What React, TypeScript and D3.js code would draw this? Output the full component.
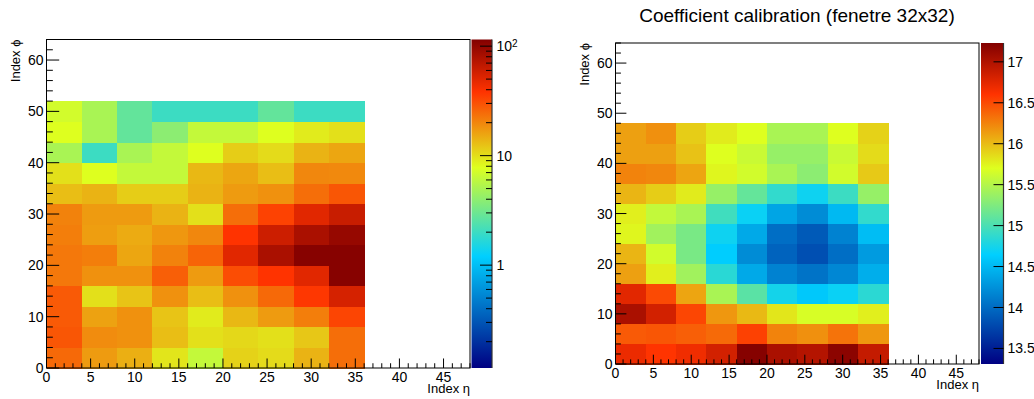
import React from "react";
import * as d3 from "d3";

// ---------- data ----------
const etaEdges = [0, 4, 8, 12, 16, 20, 24, 28, 32, 36];
const phiEdgesLeft = [0, 4, 8, 12, 16, 20, 24, 28, 32, 36, 40, 44, 48, 52];
const phiEdgesRight = [0, 4, 8, 12, 16, 20, 24, 28, 32, 36, 40, 44, 48];

// left histogram (log z), rows from phi=0 upward, columns eta 0..36
const occupancy: number[][] = [
  [25, 17, 14.5, 9.5, 6.2, 11, 10.3, 14, 24],
  [29, 19, 18.3, 12.9, 9.9, 10.5, 9.9, 12, 24],
  [28, 16, 18.3, 12.3, 9.1, 13.5, 17, 21.3, 33],
  [28, 9.9, 12.3, 18.3, 12.9, 18.3, 25, 37, 55],
  [22.2, 18.3, 18.3, 27, 17, 31, 38, 49.5, 110],
  [22.2, 21.3, 15.6, 20.6, 26, 49.5, 81, 110, 110],
  [21.3, 16.5, 15, 17.5, 19.8, 38, 60, 81, 96],
  [20.6, 17, 17, 14, 9.9, 24, 34, 49.5, 62],
  [12.9, 14, 11.5, 11.5, 14, 17, 18.3, 24.1, 29],
  [9.9, 7.8, 6.2, 6.2, 13.5, 15.6, 12.9, 19.8, 19.5],
  [5.0, 2.0, 5.0, 6.2, 7.8, 11.5, 10.3, 14, 15.6],
  [7.8, 5.0, 2.76, 3.9, 6.2, 6.2, 7.8, 9.1, 9.9],
  [7.0, 5.0, 2.76, 2.0, 2.0, 2.0, 2.76, 2.0, 2.0],
];

// right histogram (linear z)
const calib: number[][] = [
  [16.70, 16.60, 16.68, 16.83, 17.21, 17.03, 16.98, 17.18, 16.90],
  [16.43, 16.45, 16.41, 16.36, 16.54, 16.25, 16.19, 16.32, 16.16],
  [17.03, 16.83, 16.52, 16.16, 16.01, 15.81, 15.67, 15.67, 15.77],
  [16.75, 16.50, 16.10, 15.45, 15.07, 14.74, 14.60, 14.69, 14.85],
  [16.12, 15.77, 15.41, 14.84, 14.40, 14.15, 14.05, 14.18, 14.43],
  [16.03, 15.64, 15.22, 14.63, 14.21, 13.95, 13.82, 14.02, 14.31],
  [15.74, 15.41, 15.22, 14.71, 14.40, 14.02, 13.89, 14.15, 14.53],
  [15.77, 15.57, 15.45, 14.95, 14.69, 14.37, 14.21, 14.50, 14.88],
  [16.03, 15.92, 15.79, 15.36, 15.12, 14.88, 14.71, 14.93, 15.36],
  [16.25, 16.23, 16.10, 15.74, 15.64, 15.45, 15.31, 15.64, 15.94],
  [16.12, 16.12, 15.97, 15.70, 15.60, 15.36, 15.36, 15.60, 15.86],
  [16.12, 16.19, 15.92, 15.79, 15.70, 15.45, 15.45, 15.70, 15.90],
];

const titleRight = "Coefficient calibration (fenetre 32x32)";
const xTitle = "Index η";
const yTitle = "Index ϕ";
const xMajorTicks = [0, 5, 10, 15, 20, 25, 30, 35, 40, 45];
const yMajorTicks = [0, 10, 20, 30, 40, 50, 60];
const logZTicks = [1, 10, 100];
const logZMinor = [0.2, 0.3, 0.4, 0.5, 0.6, 0.7, 0.8, 0.9, 2, 3, 4, 5, 6, 7, 8, 9, 20, 30, 40, 50, 60, 70, 80, 90];
const linZTicks = [13.5, 14, 14.5, 15, 15.5, 16, 16.5, 17];
const logZRange = [0.115, 115];
const linZRange = [13.31, 17.23];

// palette
const palStops = [0, 0.34, 0.61, 0.84, 1];
const palColors = ["rgb(0,0,130)", "rgb(0,207,255)", "rgb(222,255,31)", "rgb(255,51,0)", "rgb(130,0,0)"];
const palette = d3.scaleLinear<string>().domain(palStops).range(palColors).interpolate(d3.interpolateRgb).clamp(true);

const FONT = "'Liberation Sans', Arial, Helvetica, sans-serif";

type PanelProps = {
  frame: { x0: number; x1: number; y0: number; y1: number };
  bar: { x0: number; x1: number };
  phiEdges: number[];
  values: number[][];
  log: boolean;
  gradId: string;
};

function Panel({ frame, bar, phiEdges, values, log, gradId }: PanelProps) {
  const x = d3.scaleLinear().domain([0, 48]).range([frame.x0, frame.x1]);
  const y = d3.scaleLinear().domain([0, 64]).range([frame.y1, frame.y0]);
  const zt: (v: number) => number = log
    ? d3.scaleLog().domain(logZRange).range([0, 1]).clamp(true)
    : d3.scaleLinear().domain(linZRange).range([0, 1]).clamp(true);
  const zy = log
    ? d3.scaleLog().domain(logZRange).range([frame.y1, frame.y0])
    : d3.scaleLinear().domain(linZRange).range([frame.y1, frame.y0]);

  const xMinor = d3.range(0, 49, 1);
  const yMinor = d3.range(0, 65, 2);
  const h = frame.y1 - frame.y0;
  const w = frame.x1 - frame.x0;
  const xMajLen = 0.029 * h;
  const yMajLen = 0.03 * w;

  return (
    <g>
      <g shapeRendering="crispEdges">
        {values.map((row, r) =>
          row.map((v, c) => (
            <rect
              key={`${r}-${c}`}
              x={x(etaEdges[c])}
              y={y(phiEdges[r + 1])}
              width={x(etaEdges[c + 1]) - x(etaEdges[c]) + 0.5}
              height={y(phiEdges[r]) - y(phiEdges[r + 1]) + 0.5}
              fill={palette(zt(v))}
            />
          ))
        )}
      </g>
      <rect x={frame.x0} y={frame.y0} width={w} height={h} fill="none" stroke="#000" strokeWidth={1} />
      {xMinor.map((t) => {
        const major = t % 5 === 0;
        return (
          <line key={`xt${t}`} x1={x(t)} x2={x(t)} y1={frame.y1} y2={frame.y1 - (major ? xMajLen : xMajLen / 2)} stroke="#000" />
        );
      })}
      {yMinor.map((t) => {
        const major = t % 10 === 0;
        return (
          <line key={`yt${t}`} x1={frame.x0} x2={frame.x0 + (major ? yMajLen : yMajLen / 2)} y1={y(t)} y2={y(t)} stroke="#000" />
        );
      })}
      {xMajorTicks.map((t) => (
        <text key={`xl${t}`} x={x(t)} y={frame.y1 + 13.5} textAnchor="middle" fontSize={14} fontFamily={FONT} fill="#000">
          {t}
        </text>
      ))}
      {yMajorTicks.map((t) => (
        <text key={`yl${t}`} x={frame.x0 - 3} y={y(t)} dy="0.36em" textAnchor="end" fontSize={14} fontFamily={FONT} fill="#000">
          {t}
        </text>
      ))}
      <text x={frame.x1} y={frame.y1 + 25} textAnchor="end" fontSize={13} fontFamily={FONT} fill="#000">
        {xTitle}
      </text>
      <text
        transform={`translate(${frame.x0 - 26.5},${frame.y0}) rotate(-90)`}
        textAnchor="end"
        fontSize={13}
        fontFamily={FONT}
        fill="#000"
      >
        {yTitle}
      </text>
      <defs>
        <linearGradient id={gradId} x1="0" y1="1" x2="0" y2="0">
          {palStops.map((s, i) => (
            <stop key={i} offset={s} stopColor={palColors[i]} />
          ))}
        </linearGradient>
      </defs>
      <rect x={bar.x0} y={frame.y0} width={bar.x1 - bar.x0} height={h} fill={`url(#${gradId})`} />
      <line x1={bar.x1} x2={bar.x1} y1={frame.y0} y2={frame.y1} stroke="#333" strokeWidth={1.2} />
      {log ? (
        <g>
          {logZMinor.map((t) => (
            <line key={`zm${t}`} x1={bar.x1} x2={bar.x1 - 6} y1={zy(t)} y2={zy(t)} stroke="#000" />
          ))}
          {logZTicks.map((t) => (
            <line key={`zM${t}`} x1={bar.x1} x2={bar.x1 - 12} y1={zy(t)} y2={zy(t)} stroke="#000" />
          ))}
          {logZTicks.map((t) => (
            <text key={`zl${t}`} x={bar.x1 + 4.5} y={zy(t)} dy="0.36em" fontSize={14} fontFamily={FONT} fill="#000">
              {t === 100 ? (
                <>
                  10<tspan dy="-0.45em" fontSize={10}>2</tspan>
                </>
              ) : (
                String(t)
              )}
            </text>
          ))}
        </g>
      ) : (
        <g>
          {linZTicks.map((t) => (
            <line key={`zM${t}`} x1={bar.x1} x2={bar.x1 - 10} y1={zy(t)} y2={zy(t)} stroke="#000" />
          ))}
          {linZTicks.map((t) => (
            <text key={`zl${t}`} x={bar.x1 + 4} y={zy(t)} dy="0.36em" fontSize={14} fontFamily={FONT} fill="#000">
              {String(t)}
            </text>
          ))}
        </g>
      )}
    </g>
  );
}

export default function App() {
  return (
    <svg
      width={1034}
      height={399}
      viewBox="0 0 1034 399"
      style={{ position: "absolute", left: 0, top: 0, background: "#fff" }}
    >
      <rect x={0} y={0} width={1034} height={399} fill="#fff" />
      <Panel
        frame={{ x0: 46.5, x1: 470, y0: 39.5, y1: 368 }}
        bar={{ x0: 471.5, x1: 492 }}
        phiEdges={phiEdgesLeft}
        values={occupancy}
        log={true}
        gradId="palL"
      />
      <Panel
        frame={{ x0: 615.5, x1: 979, y0: 43, y1: 364 }}
        bar={{ x0: 981, x1: 1003.5 }}
        phiEdges={phiEdgesRight}
        values={calib}
        log={false}
        gradId="palR"
      />
      <text x={797} y={21.5} textAnchor="middle" fontSize={19} fontFamily={FONT} fill="#000">
        {titleRight}
      </text>
    </svg>
  );
}
